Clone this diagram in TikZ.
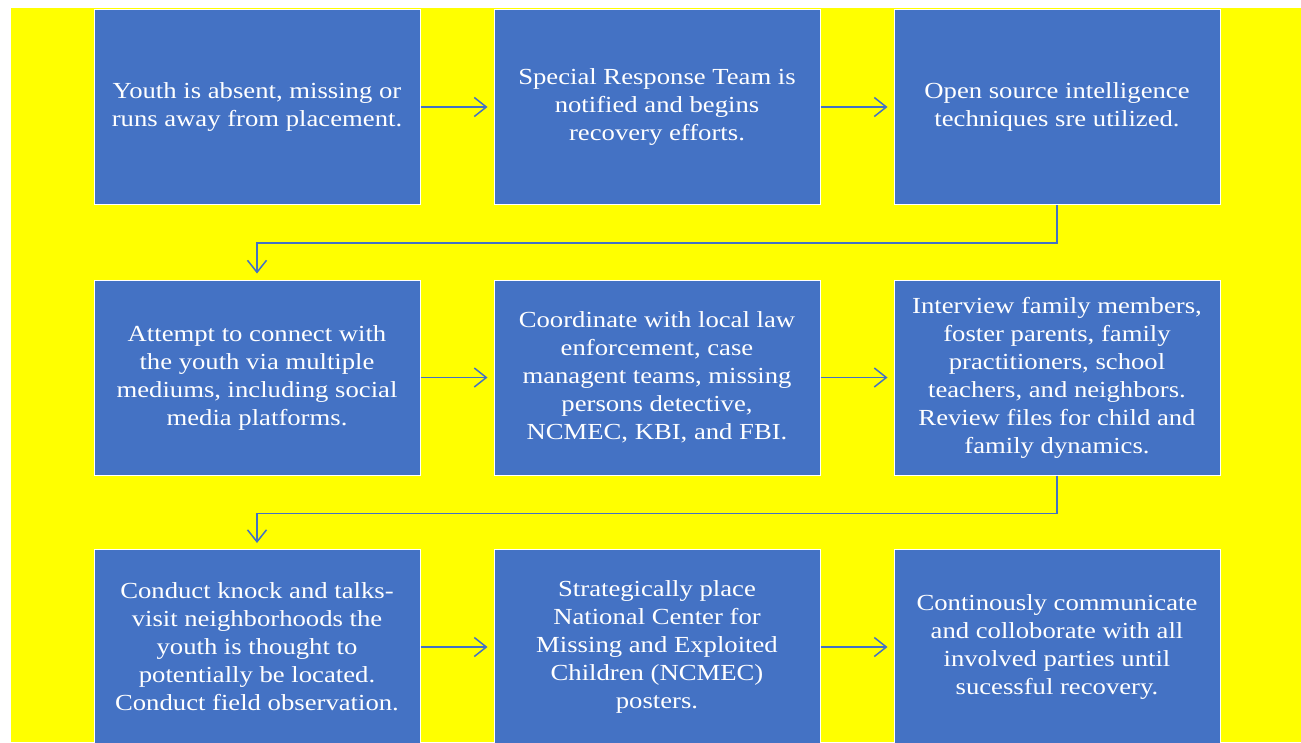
\documentclass[tikz,border=0pt]{standalone}
\usepackage{fontspec}
\setmainfont{Liberation Serif}[FakeStretch=1.16]
\usetikzlibrary{arrows.meta}
\definecolor{boxblue}{HTML}{4472C4}
\definecolor{bgyellow}{HTML}{FFFF00}
\tikzset{
  stepbox/.style={rectangle, fill=boxblue, draw=white, line width=1pt,
    minimum width=326pt, minimum height=195pt, inner sep=0pt,
    text=white, align=center,
    font=\fontsize{23pt}{28pt}\selectfont},
  flowarrow/.style={draw=boxblue, line width=1.5pt,
    -{Straight Barb[length=12pt,width=19pt,line width=1.5pt]}, shorten >=6pt},
}
\begin{document}
\begin{tikzpicture}[x=1pt,y=-1pt]
\useasboundingbox (0,0) rectangle (1301,742);
\clip (0,0) rectangle (1301,742);
\fill[white] (0,0) rectangle (1301,742);
\fill[bgyellow] (11,7.7) rectangle (1301,742);

\node[stepbox] (b1) at (257,107) {Youth is absent, missing or\\runs away from placement.};
\node[stepbox] (b2) at (657,107) {Special Response Team is\\notified and begins\\recovery efforts.};
\node[stepbox] (b3) at (1057,107) {Open source intelligence\\techniques sre utilized.};

\node[stepbox] (b4) at (257,377.5) {Attempt to connect with\\the youth via multiple\\mediums, including social\\media platforms.};
\node[stepbox] (b5) at (657,377.5) {Coordinate with local law\\enforcement, case\\managent teams, missing\\persons detective,\\NCMEC, KBI, and FBI.};
\node[stepbox] (b6) at (1057,377.5) {Interview family members,\\foster parents, family\\practitioners, school\\teachers, and neighbors.\\Review files for child and\\family dynamics.};

\node[stepbox] (b7) at (257,647) {Conduct knock and talks-\\visit neighborhoods the\\youth is thought to\\potentially be located.\\Conduct field observation.};
\node[stepbox] (b8) at (657,647) {Strategically place\\National Center for\\Missing and Exploited\\Children (NCMEC)\\posters.};
\node[stepbox] (b9) at (1057,647) {Continously communicate\\and colloborate with all\\involved parties until\\sucessful recovery.};

\draw[flowarrow] (b1.east) -- (b2.west);
\draw[flowarrow] (b2.east) -- (b3.west);
\draw[flowarrow] (b4.east) -- (b5.west);
\draw[flowarrow] (b5.east) -- (b6.west);
\draw[flowarrow] (b7.east) -- (b8.west);
\draw[flowarrow] (b8.east) -- (b9.west);

\draw[flowarrow] (b3.south) -- ++(0,38) -| (b4.north);
\draw[flowarrow] (b6.south) -- ++(0,38) -| (b7.north);
\end{tikzpicture}
\end{document}
